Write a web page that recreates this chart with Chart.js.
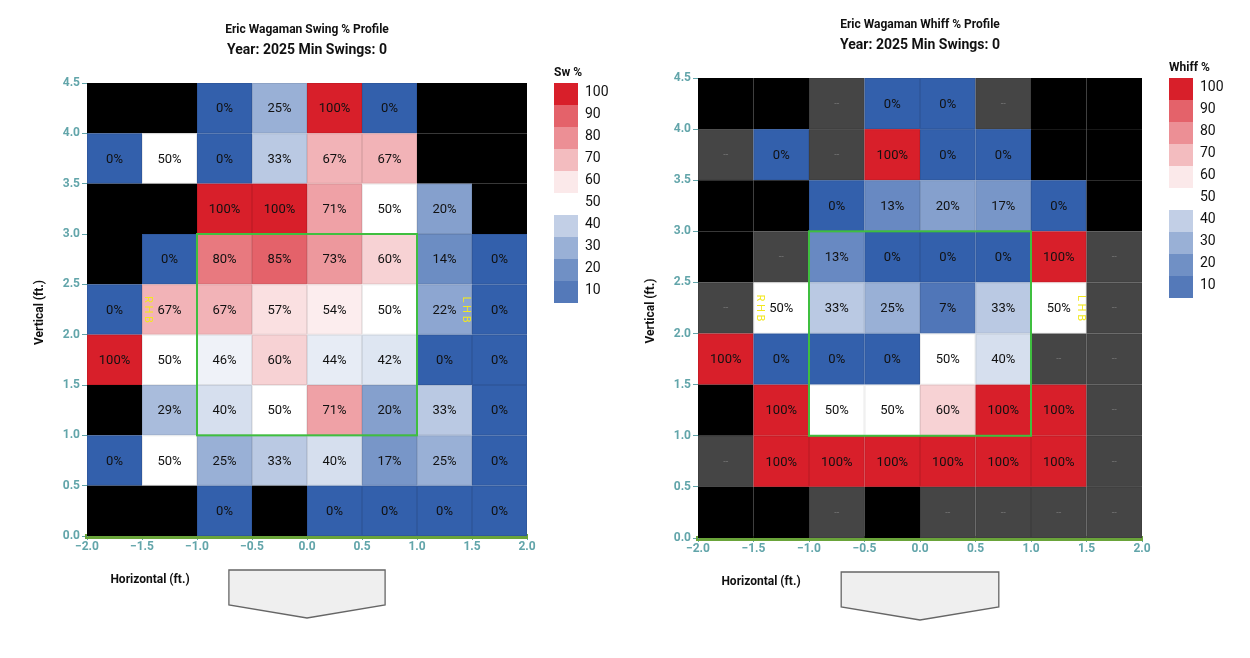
<!DOCTYPE html>
<html>
<head>
<meta charset="utf-8">
<script src="https://cdn.jsdelivr.net/npm/chart.js@4"></script>
<style>
  body { margin: 0; background: #fff; width: 1250px; height: 658px; overflow: hidden; }
  .box { position: absolute; top: 0; width: 625px; height: 658px; }
</style>
</head>
<body>
<div class="box" style="left:0"><canvas id="swingChart" width="625" height="658"></canvas></div>
<div class="box" style="left:625px"><canvas id="whiffChart" width="625" height="658"></canvas></div>
<script>
// zone columns (left edge, ft) and rows (bottom edge, ft), top row first
var colEdges = [-2.0, -1.5, -1.0, -0.5, 0.0, 0.5, 1.0, 1.5];
var rowEdges = [4.0, 3.5, 3.0, 2.5, 2.0, 1.5, 1.0, 0.5, 0.0];
var xTicks = [-2.0, -1.5, -1.0, -0.5, 0.0, 0.5, 1.0, 1.5, 2.0];
var yTicks = [0.0, 0.5, 1.0, 1.5, 2.0, 2.5, 3.0, 3.5, 4.0, 4.5];
var legendTicks = [100, 90, 80, 70, 60, 50, 40, 30, 20, 10];

// null = no pitches (black), '--' = pitches but no swings (grey)
var swingPct = [
    [null, null, 0, 25, 100, 0, null, null],
    [0, 50, 0, 33, 67, 67, null, null],
    [null, null, 100, 100, 71, 50, 20, null],
    [null, 0, 80, 85, 73, 60, 14, 0],
    [0, 67, 67, 57, 54, 50, 22, 0],
    [100, 50, 46, 60, 44, 42, 0, 0],
    [null, 29, 40, 50, 71, 20, 33, 0],
    [0, 50, 25, 33, 40, 17, 25, 0],
    [null, null, 0, null, 0, 0, 0, 0]
];
var whiffPct = [
    [null, null, '--', 0, 0, '--', null, null],
    ['--', 0, '--', 100, 0, 0, null, null],
    [null, null, 0, 13, 20, 17, 0, null],
    [null, '--', 13, 0, 0, 0, 100, '--'],
    ['--', 50, 33, 25, 7, 33, 50, '--'],
    [100, 0, 0, 0, 50, 40, '--', '--'],
    [null, 100, 50, 50, 60, 100, 100, '--'],
    ['--', 100, 100, 100, 100, 100, 100, '--'],
    [null, null, '--', null, '--', '--', '--', '--']
];

var FONT = 'Roboto, "Liberation Sans", sans-serif';
var TEAL = '#62a5aa';

function mix(a, b, t) {
    return 'rgb(' + [0, 1, 2].map(function (i) { return Math.round(a[i] + (b[i] - a[i]) * t); }).join(',') + ')';
}
function cellColor(v) {
    var blue = [51, 96, 172], white = [255, 255, 255], red = [216, 31, 42];
    if (v <= 50) return mix(blue, white, v / 50);
    return mix(white, red, (v - 50) / 50);
}

function zonePlugin(grid, title, legendTitle) {
    return {
        id: 'zone',
        beforeDatasetsDraw: function (chart) {
            var c = chart.ctx, x = chart.scales.x, y = chart.scales.y;
            c.save();
            grid.forEach(function (row, r) {
                row.forEach(function (v, i) {
                    var x0 = x.getPixelForValue(colEdges[i]), x1 = x.getPixelForValue(colEdges[i] + 0.5);
                    var y0 = y.getPixelForValue(rowEdges[r] + 0.5), y1 = y.getPixelForValue(rowEdges[r]);
                    c.fillStyle = v === null ? '#000' : (v === '--' ? '#454545' : cellColor(v));
                    c.fillRect(x0, y0, x1 - x0, y1 - y0);
                    if (v !== null) {
                        c.strokeStyle = 'rgba(0,0,0,0.08)';
                        c.lineWidth = 1;
                        c.strokeRect(x0 + 0.5, y0 + 0.5, x1 - x0 - 1, y1 - y0 - 1);
                    }
                    if (v === null) return;
                    c.textAlign = 'center';
                    c.textBaseline = 'middle';
                    if (v === '--') {
                        c.fillStyle = '#7a7a7a';
                        c.font = '9px ' + FONT;
                        c.fillText('--', (x0 + x1) / 2, (y0 + y1) / 2);
                    } else {
                        c.fillStyle = '#111';
                        c.font = '13px ' + FONT;
                        c.fillText(v + '%', (x0 + x1) / 2, (y0 + y1) / 2 + 1);
                    }
                });
            });
            // strike zone
            c.strokeStyle = '#3fbf3f';
            c.lineWidth = 2;
            var sx0 = x.getPixelForValue(-1), sx1 = x.getPixelForValue(1);
            var sy0 = y.getPixelForValue(3), sy1 = y.getPixelForValue(1);
            c.strokeRect(sx0, sy0, sx1 - sx0, sy1 - sy0);
            // RHB / LHB markers
            c.fillStyle = '#f2e81e';
            c.font = '11px ' + FONT;
            var ym = y.getPixelForValue(2.25);
            [[-1.5, 'R H B', 6], [1.5, 'L H B', -6]].forEach(function (m) {
                c.save();
                c.translate(x.getPixelForValue(m[0]) + m[2], ym);
                c.rotate(Math.PI / 2);
                c.textAlign = 'center';
                c.fillText(m[1], 0, 0);
                c.restore();
            });
            c.restore();
        },
        afterDraw: function (chart) {
            var c = chart.ctx, x = chart.scales.x, a = chart.chartArea;
            c.save();
            // titles
            var cx = (a.left + a.right) / 2;
            c.fillStyle = '#111';
            c.textAlign = 'center';
            c.textBaseline = 'middle';
            c.font = 'bold 12px ' + FONT;
            c.fillText(title, cx, a.top - 53);
            c.font = 'bold 14px ' + FONT;
            c.fillText('Year: 2025 Min Swings: 0', cx, a.top - 33);
            // axis titles
            c.font = 'bold 12px ' + FONT;
            c.fillText('Horizontal (ft.)', a.left + 63, a.bottom + 44);
            c.save();
            c.translate(a.left - 47, (a.top + a.bottom) / 2 + 3);
            c.rotate(-Math.PI / 2);
            c.fillText('Vertical (ft.)', 0, 0);
            c.restore();
            // home plate
            var px0 = x.getPixelForValue(-0.71), px1 = x.getPixelForValue(0.71), pm = x.getPixelForValue(0);
            var top = a.bottom + 34;
            c.beginPath();
            c.moveTo(px0, top); c.lineTo(px1, top); c.lineTo(px1, top + 35);
            c.lineTo(pm, top + 48); c.lineTo(px0, top + 35); c.closePath();
            c.fillStyle = '#efefef'; c.fill();
            c.strokeStyle = '#666'; c.lineWidth = 1.3; c.stroke();
            // legend
            var lx = a.right + 27, ly = a.top;
            c.textAlign = 'left';
            c.fillStyle = '#111';
            c.font = 'bold 12px ' + FONT;
            c.fillText(legendTitle, lx, ly - 10);
            c.font = '14px ' + FONT;
            legendTicks.forEach(function (t, i) {
                var by = ly + i * 22;
                if (t !== 50) {
                    c.fillStyle = cellColor(t > 50 ? t - 5 : t - 10 + 5);
                    if (t === 100) c.fillStyle = cellColor(100);
                    if (t === 10) c.fillStyle = cellColor(8);
                    c.fillRect(lx, by, 24, 22);
                }
                c.fillStyle = '#111';
                c.fillText(String(t), lx + 31, by + 9);
            });
            c.restore();
        }
    };
}

function makeChart(id, grid, title, legendTitle, pad) {
    var ctx = document.getElementById(id).getContext('2d');
    return new Chart(ctx, {
        type: 'scatter',
        data: { datasets: [{ data: [], showLine: false }] },
        options: {
            responsive: false,
            animation: false,
            layout: { padding: pad },
            plugins: { legend: { display: false }, tooltip: { enabled: false } },
            scales: {
                x: {
                    type: 'linear', min: -2, max: 2,
                    afterBuildTicks: function (s) { s.ticks = xTicks.map(function (v) { return { value: v }; }); },
                    afterFit: function (s) { s.height = 30; },
                    ticks: {
                        color: TEAL, font: { family: FONT, size: 12, weight: 'bold' }, padding: 0,
                        callback: function (v) { return (v < 0 ? '\u2212' : '') + Math.abs(v).toFixed(1); }
                    },
                    grid: { drawOnChartArea: false, color: TEAL, tickLength: 4 },
                    border: { color: '#6aa43a', width: 5 }
                },
                y: {
                    type: 'linear', min: 0, max: 4.5,
                    afterBuildTicks: function (s) { s.ticks = yTicks.map(function (v) { return { value: v }; }); },
                    afterFit: function (s) { s.width = 40; },
                    ticks: {
                        color: TEAL, font: { family: FONT, size: 12, weight: 'bold' }, padding: 2,
                        callback: function (v) { return v.toFixed(1); }
                    },
                    grid: { drawOnChartArea: false, color: TEAL, tickLength: 5 },
                    border: { color: TEAL, width: 1 }
                }
            }
        },
        plugins: [zonePlugin(grid, title, legendTitle)]
    });
}

makeChart('swingChart', swingPct, 'Eric Wagaman Swing % Profile', 'Sw %',
    { left: 47, right: 98, top: 83, bottom: 92 });
makeChart('whiffChart', whiffPct, 'Eric Wagaman Whiff % Profile', 'Whiff %',
    { left: 33, right: 108, top: 78, bottom: 90 });
</script>
</body>
</html>
